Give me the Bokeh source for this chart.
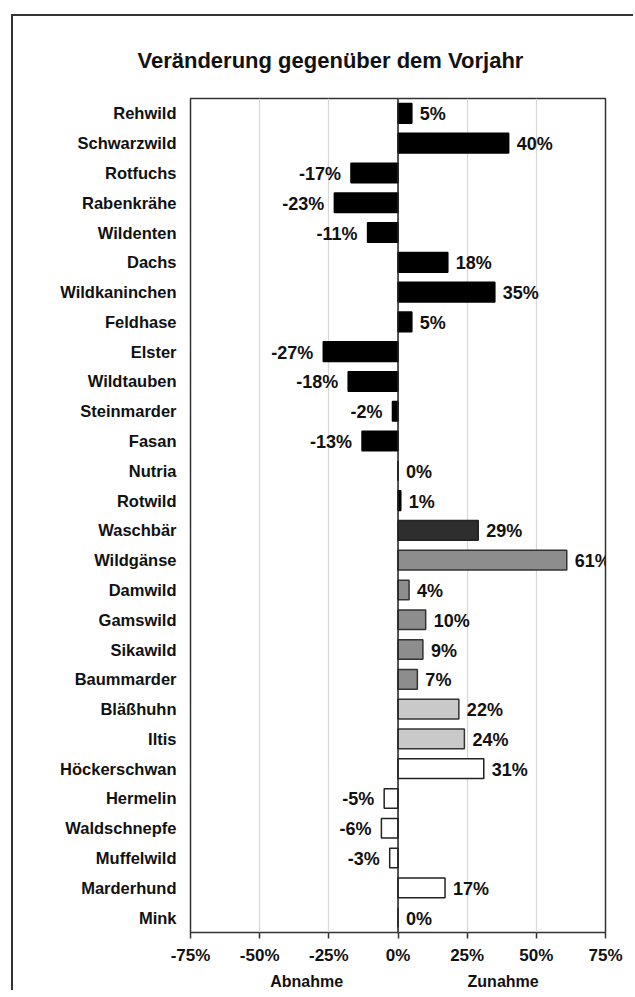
from bokeh.plotting import figure
from bokeh.models import (ColumnDataSource, FactorRange, FixedTicker, LinearAxis,
                          PrintfTickFormatter, Span, Range1d)
from bokeh.core.properties import value
from bokeh.embed import file_html
from bokeh.resources import INLINE

# ---------------- data ----------------
categories = ["Rehwild", "Schwarzwild", "Rotfuchs", "Rabenkrähe", "Wildenten", "Dachs",
              "Wildkaninchen", "Feldhase", "Elster", "Wildtauben", "Steinmarder", "Fasan",
              "Nutria", "Rotwild", "Waschbär", "Wildgänse", "Damwild", "Gamswild",
              "Sikawild", "Baummarder", "Bläßhuhn", "Iltis", "Höckerschwan", "Hermelin",
              "Waldschnepfe", "Muffelwild", "Marderhund", "Mink"]
values = [5, 40, -17, -23, -11, 18, 35, 5, -27, -18, -2, -13, 0, 1, 29, 61, 4, 10, 9, 7,
          22, 24, 31, -5, -6, -3, 17, 0]
groups = ["g1"] * 14 + ["g2"] + ["g3"] * 5 + ["g4"] * 2 + ["g5"] * 6
x_ticks = [-75, -50, -25, 0, 25, 50, 75]
side_labels = ["Abnahme", "Zunahme"]
side_label_pos = [-33, 38]
title_text = "Veränderung gegenüber dem Vorjahr"

# ---------------- styles ----------------
FONT = "Liberation Sans"
group_fill = {"g1": "#000000", "g2": "#2e2e2e", "g3": "#8d8d8d", "g4": "#c9c9c9", "g5": "#ffffff"}
group_line = {"g1": "#000000", "g2": "#222222", "g3": "#333333", "g4": "#333333", "g5": "#222222"}

fills = [group_fill[g] for g in groups]
lines = [group_line[g] for g in groups]
labels = [f"{v}%" for v in values]
align = ["left" if v >= 0 else "right" for v in values]
offs = [8 if v >= 0 else -10 for v in values]

src = ColumnDataSource(dict(cat=categories, val=values, fill=fills, line=lines,
                            lab=labels, align=align, offs=offs))

p = figure(width=622, height=976, output_backend="svg", toolbar_location=None,
           y_range=FactorRange(factors=list(reversed(categories)), range_padding=0),
           x_range=Range1d(-75, 75),
           min_border_left=177, min_border_right=30, min_border_top=82, min_border_bottom=50)
p.margin = (14, 0, 0, 11)
p.styles = {"border-left": "2px solid #333333", "border-top": "2px solid #333333"}
p.background_fill_color = "white"
p.border_fill_color = "white"
p.outline_line_color = "#333333"
p.outline_line_width = 1.5

p.title.text = title_text
p.title.align = "left"
p.title.offset = -53
p.title.text_font = FONT
p.title.text_font_size = "22px"
p.title.text_font_style = "bold"
p.title.text_color = "#111111"
p.title.standoff = 52

p.hbar(y="cat", left=0, right="val", height=0.66, fill_color="fill", line_color="line",
       line_width=1.5, source=src)

p.add_layout(Span(location=0, dimension="height", line_color="#222222", line_width=1.5))

p.text(x="val", y="cat", text="lab", text_align="align", text_baseline="middle",
       x_offset="offs", y_offset=1, text_font=value(FONT), source=src,
       text_font_size="18px", text_font_style="bold", text_color="#111111")

# axes
p.xaxis.ticker = FixedTicker(ticks=x_ticks)
p.xaxis.formatter = PrintfTickFormatter(format="%d%%")
p.xaxis.axis_line_color = None
p.xaxis.major_tick_line_color = "#333333"
p.xaxis.major_tick_line_width = 1.5
p.xaxis.major_tick_out = 6
p.xaxis.major_tick_in = 0
p.xaxis.minor_tick_line_color = None
p.xaxis.major_label_standoff = 7
p.xaxis.major_label_text_font = FONT
p.xaxis.major_label_text_font_size = "17px"
p.xaxis.major_label_text_font_style = "bold"
p.xaxis.major_label_text_color = "#111111"

side_axis = LinearAxis(ticker=FixedTicker(ticks=side_label_pos),
                       major_label_overrides={k: v for k, v in zip(side_label_pos, side_labels)})
side_axis.axis_line_color = None
side_axis.major_tick_line_color = None
side_axis.minor_tick_line_color = None
side_axis.major_tick_out = 0
side_axis.major_tick_in = 0
side_axis.major_label_standoff = 5
side_axis.major_label_text_font = FONT
side_axis.major_label_text_font_size = "16px"
side_axis.major_label_text_font_style = "bold"
side_axis.major_label_text_color = "#111111"
p.add_layout(side_axis, "below")

p.yaxis.axis_line_color = None
p.yaxis.major_tick_line_color = None
p.yaxis.minor_tick_line_color = None
p.yaxis.major_tick_out = 0
p.yaxis.major_label_standoff = 14
p.yaxis.major_label_text_font = FONT
p.yaxis.major_label_text_font_size = "16.5px"
p.yaxis.major_label_text_font_style = "bold"
p.yaxis.major_label_text_color = "#111111"

p.xgrid.ticker = FixedTicker(ticks=x_ticks)
p.xgrid.grid_line_color = "#d8d8d8"
p.xgrid.grid_line_width = 1.2
p.ygrid.grid_line_color = None

open("out.html", "w").write(file_html(p, INLINE))
